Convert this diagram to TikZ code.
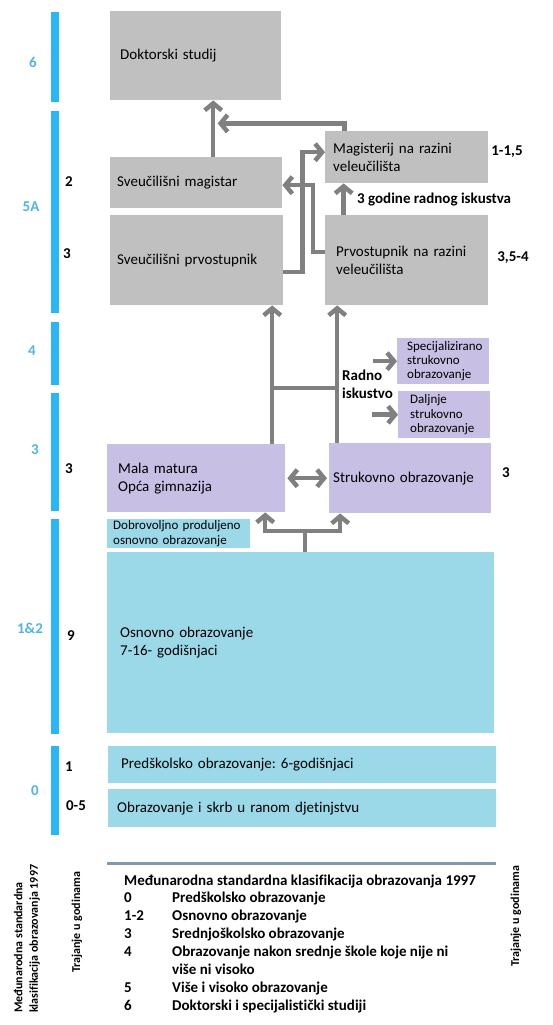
\documentclass[tikz,border=0pt]{standalone}
\usepackage{fontspec}
\setmainfont{Carlito}[Ligatures=NoCommon]
\usetikzlibrary{arrows.meta,positioning}
\frenchspacing

\definecolor{barblue}{RGB}{41,182,246}
\definecolor{lvlblue}{RGB}{80,180,230}
\definecolor{boxgrey}{RGB}{192,192,192}
\definecolor{boxlilac}{RGB}{200,191,228}
\definecolor{boxsky}{RGB}{155,216,232}
\definecolor{arrgrey}{RGB}{128,128,128}
\definecolor{rulegrey}{RGB}{132,151,176}

\begin{document}
\begin{tikzpicture}[x=1pt,y=-1pt,>={Straight Barb[length=7pt,width=17pt]},line join=miter]
\tikzstyle{box}=[anchor=north west,inner ysep=0pt,align=left,font=\fontsize{15}{18}\selectfont]
\tikzstyle{greybox}=[box,fill=boxgrey]
\tikzstyle{lilacbox}=[box,fill=boxlilac]
\tikzstyle{skybox}=[box,fill=boxsky]
\tikzstyle{small}=[font=\fontsize{13}{14.3}\selectfont]
\tikzstyle{num}=[inner sep=0pt,font=\fontsize{15}{18}\selectfont\bfseries]
\tikzstyle{lvl}=[num,text=lvlblue]
\tikzstyle{legend}=[num,anchor=west,text height=10pt,text depth=3pt]
\tikzstyle{sidetext}=[inner sep=0pt,font=\fontsize{12}{15.5}\selectfont\bfseries,rotate=90,anchor=west,align=left]
\tikzstyle{flow}=[draw=arrgrey,line width=4.5pt,->]

\useasboundingbox (0,0) rectangle (553,1025);

% ISCED level bars
\fill[barblue] (51,12) rectangle (59,102);
\fill[barblue] (51,111) rectangle (59,313);
\fill[barblue] (51,322) rectangle (59,385);
\fill[barblue] (51,393) rectangle (59,511);
\fill[barblue] (51,519) rectangle (59,734);
\fill[barblue] (51,746) rectangle (59,835);

\node[lvl] (lv6)  at (33,62)  {6};
\node[lvl] (lv5)  at (31,207) {5A};
\node[lvl] (lv4)  at (32,351) {4};
\node[lvl] (lv3)  at (35,450) {3};
\node[lvl] (lv12) at (30,628) {1\&2};
\node[lvl] (lv0)  at (35,791) {0};

% durations
\node[num] (d2)   at (69,182) {2};
\node[num] (d3a)  at (67,254) {3};
\node[num] (d3b)  at (69,469) {3};
\node[num] (d9)   at (71,636) {9};
\node[num] (d1)   at (69,767) {1};
\node[num] (d05)  at (76,806) {0-5};
\node[num] (dvm)  at (507,152) {1-1,5};
\node[num] (dvp)  at (513,258) {3,5-4};
\node[num] (dst)  at (506,473) {3};

% boxes
\node[greybox, inner xsep=10pt, text width=151pt, minimum height=89pt] (dok) at (110,11) {Doktorski studij};
\node[greybox, inner xsep=7pt, text width=158pt, minimum height=51pt] (svmag) at (110,157) {Sveučilišni magistar};
\node[greybox, inner xsep=7pt, text width=159pt, minimum height=90pt] (svprv) at (110,215) {Sveučilišni prvostupnik};
\node[greybox, inner xsep=8pt, text width=147pt, minimum height=52pt] (velmag) at (325,131) {Magisterij na razini\\veleučilišta};
\node[greybox, inner xsep=11pt, text width=141pt, minimum height=90pt] (velprv) at (325,215) {Prvostupnik na razini\\veleučilišta};
\node[lilacbox, small, inner xsep=10pt, text width=72pt, minimum height=46pt] (spec) at (397,338) {Specijalizirano\\strukovno\\obrazovanje};
\node[lilacbox, small, inner xsep=12pt, text width=68pt, minimum height=47pt] (dalj) at (398,391) {Daljnje\\strukovno\\obrazovanje};
\node[lilacbox, inner xsep=11pt, text width=156pt, minimum height=68pt] (mala) at (107,444) {Mala matura\\Opća gimnazija};
\node[lilacbox, inner xsep=4pt, text width=154pt, minimum height=70pt] (struk) at (329,443) {Strukovno obrazovanje};
\node[skybox, small, inner xsep=6pt, text width=131pt, minimum height=29pt] (dobro) at (107,519) {Dobrovoljno produljeno\\osnovno obrazovanje};
\node[skybox, inner xsep=13pt, text width=361pt, minimum height=181pt] (osn) at (107,552) {Osnovno obrazovanje\\7-16- godišnjaci};
\node[skybox, inner xsep=13pt, text width=362pt, minimum height=37pt] (pred) at (108,746) {Predškolsko obrazovanje: 6-godišnjaci};
\node[skybox, inner xsep=9pt, text width=370pt, minimum height=38pt] (skrb) at (108,789) {Obrazovanje i skrb u ranom djetinjstvu};

% connectors
\draw[flow] ([xshift=17pt]svmag.north) -- ([xshift=17pt]svmag.north |- dok.south);
\coordinate (dokin) at ([xshift=22pt,yshift=-23pt]dok.south);
\draw[flow] ([xshift=-62pt]velmag.north) |- (dokin);
\draw[flow] ([yshift=-12pt]svprv.east) -- ++(19,0) |- ([yshift=5pt]velmag.west);
\draw[flow] ([yshift=8pt]velprv.west) -- ++(-12,0) |- ([yshift=-2.5pt]svmag.east);
\draw[flow] ([xshift=-63pt]velprv.north) -- ([xshift=-63pt]velprv.north |- velmag.south);
\node[num, anchor=west] (radgod) at (357,200) {3 godine radnog iskustva};

\coordinate (mup) at ([xshift=76pt]mala.north);
\coordinate (strup) at ([xshift=-73pt]struk.north);
\coordinate (wexp) at (300,388);
\draw[flow] (mup) -- (mup |- svprv.south);
\draw[flow] (strup) -- (strup |- velprv.south);
\draw[flow,-] (mup |- wexp) -- (strup |- wexp);
\node[num, anchor=west, align=left] (radno) at (342,384.5) {Radno\\iskustvo};
\draw[flow] ([xshift=-24pt]spec.west) -- (spec.west);
\draw[flow] ([xshift=-26pt]dalj.west) -- (dalj.west);

\draw[flow,<->] ([xshift=2pt]mala.east) -- ([xshift=-2pt]struk.west);

\coordinate (split) at ([xshift=4.5pt,yshift=21pt]osn.north);
\draw[flow,-] ([xshift=4.5pt]osn.north) -- (split);
\draw[flow] (split) -| ([xshift=69pt]mala.south);
\draw[flow] (split) -| ([xshift=-70pt]struk.south);

% legend
\draw[rulegrey, line width=3pt] (107,863) -- (496,863);
\node[legend] (legtitle) at (124,882) {Međunarodna standardna klasifikacija obrazovanja 1997};
\foreach \code/\desc/\yy in {0/Predškolsko obrazovanje/899, 1-2/Osnovno obrazovanje/917, 3/Srednjoškolsko obrazovanje/935, 4/Obrazovanje nakon srednje škole koje nije ni/953, 5/Više i visoko obrazovanje/989, 6/Doktorski i specijalistički studiji/1007}{
  \node[legend] (code\yy) at (124,\yy) {\code};
  \node[legend] (desc\yy) at (172,\yy) {\desc};
}
\node[legend] (desc971) at (172,971) {više ni visoko};

\node[sidetext] (isced) at (27,1013) {Međunarodna standardna\\klasifikacija obrazovanja 1997};
\node[sidetext] (trajl) at (77,973) {Trajanje u godinama};
\node[sidetext] (trajr) at (516,967) {Trajanje u godinama};
\end{tikzpicture}
\end{document}
